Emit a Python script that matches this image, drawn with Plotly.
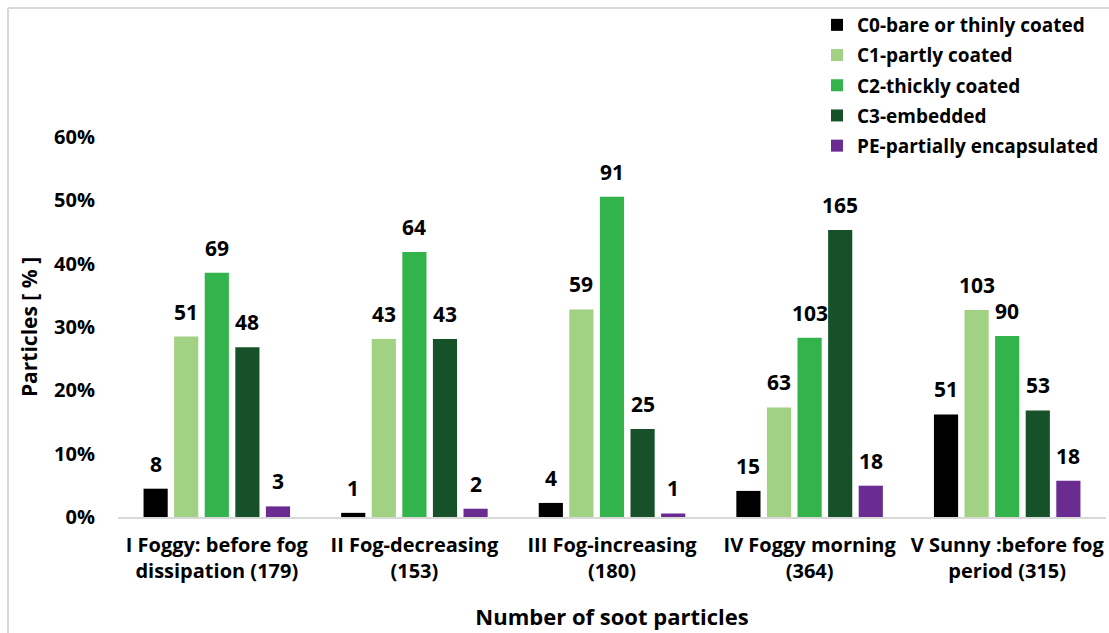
import plotly.graph_objects as go

# Sampling periods (total number of soot particles in brackets)
periods = [
    "I Foggy: before fog<br>dissipation (179)",
    "II Fog-decreasing<br>(153)",
    "III Fog-increasing<br>(180)",
    "IV Foggy morning<br>(364)",
    "V Sunny :before fog<br>period (315)",
]
totals = [179, 153, 180, 364, 315]

# Particle counts per mixing-state class
c0_counts = [8, 1, 4, 15, 51]
c1_counts = [51, 43, 59, 63, 103]
c2_counts = [69, 64, 91, 103, 90]
c3_counts = [48, 43, 25, 165, 53]
pe_counts = [3, 2, 1, 18, 18]

series_names = [
    "C0-bare or thinly coated",
    "C1-partly coated",
    "C2-thickly coated",
    "C3-embedded",
    "PE-partially encapsulated",
]
series_counts = [c0_counts, c1_counts, c2_counts, c3_counts, pe_counts]
series_colors = ["#000000", "#A1D284", "#33B34B", "#16512A", "#6B2C91"]

y_ticks = [0, 0.1, 0.2, 0.3, 0.4, 0.5, 0.6]

FONT = "Open Sans"
W, H = 1109, 633
ML, MR, MT, MB = 118, 3, 137, 116
PW = W - ML - MR
PH = H - MT - MB
BARGAP = 0.226
N = len(series_names)

fig = go.Figure()
annotations = []
slot = (1 - BARGAP) / N
for k, (name, counts, color) in enumerate(zip(series_names, series_counts, series_colors)):
    frac = [c / t for c, t in zip(counts, totals)]
    fig.add_trace(go.Bar(
        name=name,
        x=periods,
        y=frac,
        marker=dict(color=color, line=dict(width=0)),
        legendgroup=name,
        customdata=counts,
        hovertemplate="%{x}<br>%{customdata} (%{y:.1%})<extra>" + name + "</extra>",
    ))
    # count labels above each bar
    for i, (c, f) in enumerate(zip(counts, frac)):
        annotations.append(dict(
            x=i - (1 - BARGAP) / 2 + slot * (k + 0.5), y=f,
            xref="x", yref="y", text=str(c), showarrow=False,
            yanchor="bottom", yshift=9,
            font=dict(family=FONT, size=21, color="#000000", weight="bold"),
        ))

def px_x(x):
    return (x - ML) / PW

def px_y(y):
    return (H - MB - y) / PH

fig.update_layout(
    width=W,
    height=H,
    margin=dict(l=ML, r=MR, t=MT, b=MB),
    paper_bgcolor="white",
    plot_bgcolor="white",
    barmode="group",
    bargap=BARGAP,
    bargroupgap=0.21,
    font=dict(family=FONT, size=20, color="#000000", weight="bold"),
    legend=dict(
        x=px_x(817), y=px_y(6), xanchor="left", yanchor="top",
        font=dict(family=FONT, size=19, color="#000000", weight="bold"),
        bgcolor="rgba(0,0,0,0)",
        tracegroupgap=2.5,
        traceorder="grouped",
    ),
    showlegend=True,
    annotations=annotations,
    xaxis=dict(
        showline=True, linecolor="#D9D9D9", linewidth=2,
        showgrid=False, ticks="", ticklabelstandoff=9,
        tickfont=dict(family=FONT, size=20, color="#000000", weight="bold"),
        title=dict(text="Number of soot particles", standoff=27,
                   font=dict(family=FONT, size=22, color="#000000", weight="bold")),
    ),
    yaxis=dict(
        range=[0, 0.6],
        tickvals=y_ticks,
        tickformat=".0%",
        showline=False, showgrid=False, zeroline=False, ticks="",
        ticklabelstandoff=22,
        tickfont=dict(family=FONT, size=20, color="#000000", weight="bold"),
        title=dict(text="Particles [ % ]", standoff=10,
                   font=dict(family=FONT, size=21, color="#000000", weight="bold")),
    ),
    shapes=[
        dict(type="line", xref="paper", yref="paper",
             x0=px_x(8), x1=px_x(8), y0=px_y(8), y1=px_y(H + 5),
             line=dict(color="#D9D9D9", width=2)),
        dict(type="line", xref="paper", yref="paper",
             x0=px_x(8), x1=px_x(W + 5), y0=px_y(8), y1=px_y(8),
             line=dict(color="#D9D9D9", width=2)),
    ],
)

fig.write_html("out.html")
